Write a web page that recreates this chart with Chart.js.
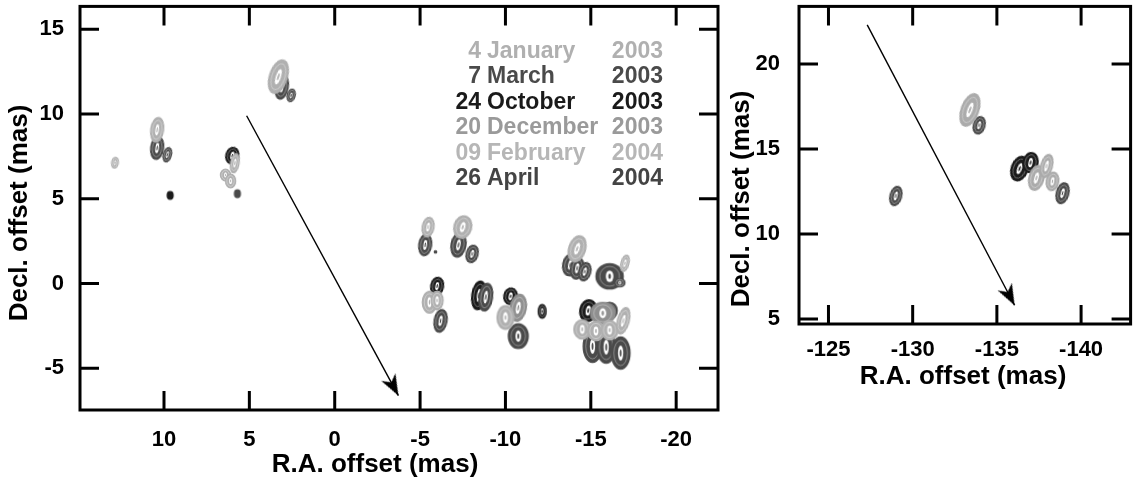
<!DOCTYPE html>
<html>
<head>
<meta charset="utf-8">
<script src="https://cdn.jsdelivr.net/npm/chart.js@4.4.1/dist/chart.umd.min.js"></script>
<style>
html, body { margin: 0; padding: 0; background: #fff; }
#wrap { position: relative; width: 1137px; height: 479px; overflow: hidden; }
#left { position: absolute; left: 0; top: 0; }
#right { position: absolute; left: 730px; top: 0; }
</style>
</head>
<body>
<div id="wrap">
    <canvas id="left" width="730" height="479"></canvas>
    <canvas id="right" width="407" height="479"></canvas>
</div>
<script>
// tick labels
const leftXTicks = [10, 5, 0, -5, -10, -15, -20];
const leftYTicks = [15, 10, 5, 0, -5];
const rightXTicks = [-125, -130, -135, -140];
const rightYTicks = [5, 10, 15, 20];

// epochs (legend)
const epochDays = ["4", "7", "24", "20", "09", "26"];
const epochMonths = ["January", "March", "October", "December", "February", "April"];
const epochYears = ["2003", "2003", "2003", "2003", "2004", "2004"];
const epochColors = ["#b0b0b0", "#4a4a4a", "#1a1a1a", "#9a9a9a", "#b6b6b6", "#444444"];

// maser spots: [R.A. offset, Decl. offset, width, height (mas), position angle]
const leftLight = [
    [12.87, 7.13, 0.4, 0.65, 10],
    [10.4, 9.07, 0.76, 1.46, 8],
    [5.85, 7.1, 0.5, 1.15, 10],
    [6.4, 6.4, 0.6, 0.7, 0],
    [6.1, 6.05, 0.6, 0.8, 0],
    [3.3, 12.2, 1.05, 2.05, 18],
    [-5.47, 3.33, 0.7, 1.17, 10],
    [-7.5, 3.33, 1.05, 1.35, 15],
    [-14.2, 2.05, 1.0, 1.58, 18],
    [-17.0, 1.2, 0.47, 1.0, 15],
    [-5.55, -1.1, 0.85, 1.3, 0],
    [-6.0, -1.0, 0.7, 1.1, 0],
    [-10.0, -2.0, 1.0, 1.4, 0],
    [-14.5, -2.7, 1.0, 1.15, 0],
    [-15.3, -2.8, 1.0, 1.15, 0],
    [-16.1, -2.75, 1.0, 1.15, 0],
    [-16.9, -2.2, 0.7, 1.6, 15]
];
const leftMid = [
    [-10.75, -1.43, 0.95, 1.6, 10],
    [-15.7, -1.75, 1.45, 1.3, 0]
];
const leftDark = [
    [10.4, 8.0, 0.76, 1.35, 8],
    [9.8, 7.6, 0.47, 0.88, 15],
    [5.7, 5.3, 0.35, 0.45, 0],
    [3.1, 11.6, 0.76, 1.46, 10],
    [2.55, 11.1, 0.47, 0.76, 15],
    [-5.3, 2.28, 0.76, 1.29, 8],
    [-5.9, 1.87, 0.15, 0.15, 0],
    [-7.25, 2.28, 0.88, 1.46, 10],
    [-8.05, 1.75, 0.7, 1.05, 15],
    [-13.8, 1.1, 0.9, 1.3, 10],
    [-14.2, 0.9, 0.8, 1.3, 10],
    [-14.65, 0.7, 0.7, 1.1, 15],
    [-16.1, 0.43, 1.6, 1.5, 0],
    [-16.7, 0.05, 0.6, 0.5, 0],
    [-6.2, -2.2, 0.76, 1.35, 10],
    [-8.85, -0.8, 0.8, 1.65, 8],
    [-10.75, -3.1, 1.17, 1.46, 0],
    [-16.1, -1.6, 0.9, 1.0, 0],
    [-15.1, -3.7, 1.1, 1.9, 0],
    [-15.9, -3.75, 1.1, 1.9, 0],
    [-16.75, -4.1, 1.1, 1.9, 0]
];
const leftBlack = [
    [9.64, 5.2, 0.35, 0.45, 0],
    [6.0, 7.55, 0.76, 1.0, 15],
    [-6.0, -0.15, 0.76, 1.05, 10],
    [-8.45, -0.7, 0.85, 1.7, 8],
    [-10.3, -0.75, 0.8, 1.0, 10],
    [-12.15, -1.64, 0.47, 0.82, 0],
    [-14.85, -1.6, 1.0, 1.3, 10]
];

const rightLight = [
    [-133.4, 17.3, 1.05, 2.0, 20],
    [-137.35, 13.3, 0.9, 1.5, 15],
    [-137.95, 14.0, 0.7, 1.4, 15],
    [-138.3, 13.1, 0.75, 1.1, 10]
];
const rightDark = [
    [-129.0, 12.24, 0.7, 1.15, 15],
    [-133.95, 16.4, 0.7, 1.05, 15],
    [-138.9, 12.4, 0.75, 1.25, 15]
];
const rightBlack = [
    [-136.35, 13.85, 1.0, 1.5, 20],
    [-137.0, 14.2, 0.9, 1.2, 10]
];

// proper-motion arrows
const leftArrowX = [5.16, -3.73];
const leftArrowY = [9.9, -6.61];
const rightArrowX = [-127.3, -136.05];
const rightArrowY = [22.3, 5.81];

const FONT = '"Liberation Sans", Arial, Helvetica, sans-serif';

const spotCache = {};

function ringCanvas(color, w, h) {
    const key = color + "|" + w.toFixed(1) + "|" + h.toFixed(1);
    if (spotCache[key]) return spotCache[key];
    const c = document.createElement("canvas");
    c.width = Math.ceil(w + 6);
    c.height = Math.ceil(h + 6);
    const g = c.getContext("2d");
    const cx = c.width / 2, cy = c.height / 2;
    const ell = (kx, ky) => {
        g.beginPath();
        g.ellipse(cx, cy, Math.max(w / 2 * kx, 0.5), Math.max(h / 2 * ky, 0.5), 0, 0, Math.PI * 2);
    };
    g.fillStyle = color;
    g.strokeStyle = color;
    g.lineWidth = 1.2;
    ell(1, 1);
    g.fill();
    g.stroke();
    if (w > 6) {
        g.strokeStyle = "rgba(255,255,255,0.5)";
        g.lineWidth = 0.7;
        ell(0.72, 0.78);
        g.stroke();
        g.fillStyle = "#fff";
        ell(0.28, 0.46);
        g.fill();
        g.fillStyle = color;
        ell(0.1, 0.22);
        g.fill();
    }
    spotCache[key] = c;
    return c;
}

function spotStyle(ctx, color) {
    const r = ctx.raw;
    if (!r || r.w === undefined) return "circle";
    const xs = ctx.chart.scales.x, ys = ctx.chart.scales.y;
    const kx = Math.abs(xs.getPixelForValue(1) - xs.getPixelForValue(0));
    const ky = Math.abs(ys.getPixelForValue(1) - ys.getPixelForValue(0));
    return ringCanvas(color, r.w * kx, r.h * ky);
}

function spotDataset(spots, color) {
    return {
        data: spots.map(s => ({ x: s[0], y: s[1], w: s[2], h: s[3], pa: s[4] })),
        pointStyle: ctx => spotStyle(ctx, color),
        rotation: ctx => (ctx.raw ? ctx.raw.pa : 0),
        pointRadius: 4,
        pointHoverRadius: 4,
        backgroundColor: color,
        borderColor: color
    };
}

let arrowHead;
function getArrowHead() {
    if (arrowHead) return arrowHead;
    const L = 24;
    const c = document.createElement("canvas");
    c.width = L * 2;
    c.height = L * 2;
    const g = c.getContext("2d");
    g.fillStyle = "#000";
    g.beginPath();
    g.moveTo(L, L);
    g.lineTo(L - 8, L + 21);
    g.lineTo(L, L + 15);
    g.lineTo(L + 8, L + 21);
    g.closePath();
    g.fill();
    arrowHead = c;
    return c;
}

function arrowDataset(xs, ys) {
    return {
        type: "line",
        data: xs.map((x, i) => ({ x: x, y: ys[i] })),
        showLine: true,
        borderColor: "#000",
        borderWidth: 1.4,
        fill: false,
        pointRadius: ctx => (ctx.dataIndex === 1 ? 5 : 0),
        pointStyle: ctx => (ctx.dataIndex === 1 ? getArrowHead() : "circle"),
        rotation: ctx => {
            const sx = ctx.chart.scales.x, sy = ctx.chart.scales.y;
            const d = ctx.dataset.data;
            const dx = sx.getPixelForValue(d[1].x) - sx.getPixelForValue(d[0].x);
            const dy = sy.getPixelForValue(d[1].y) - sy.getPixelForValue(d[0].y);
            return Math.atan2(dx, -dy) * 180 / Math.PI;
        }
    };
}

function framePlugin(xTicks, yTicks, extra) {
    return {
        id: "frame",
        afterDraw(chart) {
            const c = chart.ctx;
            const a = chart.chartArea;
            const sx = chart.scales.x, sy = chart.scales.y;
            const len = 19;
            c.save();
            c.strokeStyle = "#000";
            c.lineWidth = 3;
            c.strokeRect(a.left, a.top, a.right - a.left, a.bottom - a.top);
            c.beginPath();
            xTicks.forEach(v => {
                const px = sx.getPixelForValue(v);
                c.moveTo(px, a.bottom);
                c.lineTo(px, a.bottom - len);
                c.moveTo(px, a.top);
                c.lineTo(px, a.top + len);
            });
            yTicks.forEach(v => {
                const py = sy.getPixelForValue(v);
                c.moveTo(a.left, py);
                c.lineTo(a.left + len, py);
                c.moveTo(a.right, py);
                c.lineTo(a.right - len, py);
            });
            c.stroke();
            c.restore();
            extra(c, a);
        }
    };
}

function drawTitles(c, xTitle, yTitle) {
    c.save();
    c.fillStyle = "#000";
    c.font = "bold 26px " + FONT;
    c.textAlign = "center";
    c.textBaseline = "middle";
    c.fillText("R.A. offset (mas)", xTitle[0], xTitle[1]);
    c.translate(yTitle[0], yTitle[1]);
    c.rotate(-Math.PI / 2);
    c.fillText("Decl. offset (mas)", 0, 0);
    c.restore();
}

function drawLegend(c) {
    c.save();
    c.font = "bold 23px " + FONT;
    c.textBaseline = "alphabetic";
    epochDays.forEach((d, i) => {
        const y = 58 + i * 25.4;
        c.fillStyle = epochColors[i];
        c.textAlign = "right";
        c.fillText(d, 481, y);
        c.textAlign = "left";
        c.fillText(epochMonths[i], 487, y);
        c.textAlign = "right";
        c.fillText(epochYears[i], 663, y);
    });
    c.restore();
}

function noPad(s) {
    s.paddingTop = 0;
    s.paddingBottom = 0;
    s.paddingLeft = 0;
    s.paddingRight = 0;
}

function axes(xMin, xMax, yMin, yMax, xTicks, yTicks, yWidth, xHeight, xPad, yPad) {
    const tickFont = { family: FONT, size: 22, weight: "bold" };
    return {
        x: {
            type: "linear",
            min: xMin,
            max: xMax,
            reverse: true,
            grid: { display: false },
            border: { display: false },
            afterBuildTicks: s => { s.ticks = xTicks.map(v => ({ value: v })); },
            afterFit: s => { s.height = xHeight; noPad(s); },
            ticks: { color: "#000", font: tickFont, padding: xPad, maxRotation: 0, callback: v => String(v) }
        },
        y: {
            type: "linear",
            min: yMin,
            max: yMax,
            grid: { display: false },
            border: { display: false },
            afterBuildTicks: s => { s.ticks = yTicks.map(v => ({ value: v })); },
            afterFit: s => { s.width = yWidth; noPad(s); },
            ticks: { color: "#000", font: tickFont, padding: yPad, callback: v => String(v) }
        }
    };
}

new Chart(document.getElementById("left"), {
    type: "scatter",
    data: {
        datasets: [
            spotDataset(leftLight, "#b0b0b0"),
            spotDataset(leftMid, "#8f8f8f"),
            spotDataset(leftDark, "#4a4a4a"),
            spotDataset(leftBlack, "#1a1a1a"),
            arrowDataset(leftArrowX, leftArrowY)
        ]
    },
    options: {
        responsive: false,
        animation: false,
        events: [],
        layout: { padding: { top: 3, right: 12, left: 0, bottom: 0 } },
        plugins: { legend: { display: false }, tooltip: { enabled: false } },
        scales: axes(-22.45, 14.92, -7.46, 16.35, leftXTicks, leftYTicks, 80, 69, 9, 8)
    },
    plugins: [framePlugin(leftXTicks, leftYTicks, (c) => {
        drawTitles(c, [375, 465], [20, 213]);
        drawLegend(c);
    })]
});

new Chart(document.getElementById("right"), {
    type: "scatter",
    data: {
        datasets: [
            spotDataset(rightLight, "#ababab"),
            spotDataset(rightDark, "#4a4a4a"),
            spotDataset(rightBlack, "#1a1a1a"),
            arrowDataset(rightArrowX, rightArrowY)
        ]
    },
    options: {
        responsive: false,
        animation: false,
        events: [],
        layout: { padding: { top: 4, right: 0, left: 0, bottom: 0 } },
        plugins: { legend: { display: false }, tooltip: { enabled: false } },
        scales: axes(-142.94, -123.25, 4.71, 23.39, rightXTicks, rightYTicks, 69, 155, 5, 11)
    },
    plugins: [framePlugin(rightXTicks, rightYTicks, (c) => {
        drawTitles(c, [233, 377], [12, 199]);
    })]
});
</script>
</body>
</html>
